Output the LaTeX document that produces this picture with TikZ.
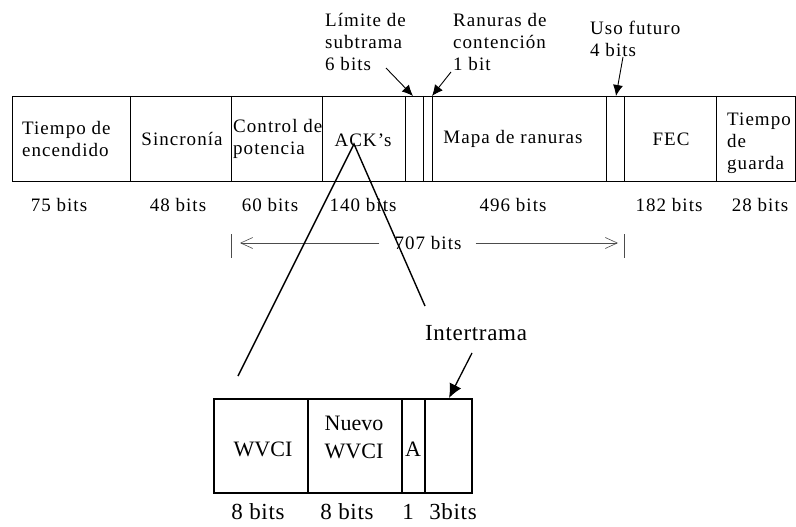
\documentclass[tikz,border=0pt]{standalone}
\usepackage{fontspec}
\setmainfont{Liberation Serif}
\newfontfamily\espaciada[LetterSpace=5.5]{Liberation Serif}
\newfontfamily\abierta[LetterSpace=3]{Liberation Serif}
\usetikzlibrary{arrows.meta,positioning}

\tikzset{
  campo/.style={font=\espaciada\fontsize{19}{22}\selectfont, inner sep=0pt, align=left},
  grande/.style={font=\fontsize{22}{28}\selectfont, inner sep=0pt, align=center},
  grandeab/.style={grande, font=\abierta\fontsize{23}{28}\selectfont},
  flecha/.style={-{Latex[length=11pt,width=10pt]}, line width=0.9pt},
  cota/.style={-{Straight Barb[length=12pt,width=11pt]}, line width=0.6pt, black!70},
}

\begin{document}
\begin{tikzpicture}[x=1pt, y=-1pt]
  \useasboundingbox (0,0) rectangle (796,527);
  % trama principal
  \begin{scope}[line width=0.9pt]
    \draw (12,96) rectangle (795,181);
    \foreach \x in {130,231,322,405,423,432,606,624,716}
      \draw (\x,96) -- (\x,181);
  \end{scope}
  % campos
  \node[campo, anchor=west] (encendido) at (22,139) {Tiempo de\\encendido};
  \node[campo] (sincronia) at (182,139) {Sincronía};
  \node[campo, anchor=west] (control) at (233,139) {Control de\\potencia};
  \node[campo] (ack) at (363,140) {ACK’s};
  \node[campo] (mapa) at (513,139) {Mapa de ranuras};
  \node[campo] (fec) at (671,139) {FEC};
  \node[campo, anchor=west] (guarda) at (727,143) {Tiempo\\de\\guarda};
  \foreach \x/\n [count=\i] in {59/75,178/48,270/60,363/140,513/496,669/182,760/28}
    \node[campo] (bits\i) at (\x,205) {\n\ bits};

  % campos pequenos
  \node[campo, anchor=west] (limite) at (325,42) {Límite de\\subtrama\\6 bits};
  \node[campo, anchor=west] (ranuras) at (453,42) {Ranuras de\\contención\\1 bit};
  \node[campo, anchor=west] (futuro) at (590,39) {Uso futuro\\4 bits};
  \coordinate (limite_ini) at (386,68);
  \coordinate (limite_fin) at (413,96);
  \coordinate (ranuras_ini) at (451,72);
  \coordinate (ranuras_fin) at (432,96);
  \coordinate (futuro_ini) at (623,57);
  \coordinate (futuro_fin) at (616,96);
  \draw[flecha] (limite_ini) -- (limite_fin);
  \draw[flecha] (ranuras_ini) -- (ranuras_fin);
  \draw[flecha] (futuro_ini) -- (futuro_fin);

  % 707 bits
  \node[campo] (total) at (428,243) {707 bits};
  \coordinate (total_izq) at (231,243);
  \coordinate (total_der) at (624,243);
  \draw[black!70, line width=0.8pt] (231,234) -- (231,258);
  \draw[black!70, line width=0.8pt] (624,234) -- (624,258);
  \draw[cota] ([xshift=-15pt]total.west) -- ([xshift=9pt]total_izq);
  \draw[cota] ([xshift=14pt]total.east) -- ([xshift=-6pt]total_der);

  % ampliacion de ACK's
  \coordinate (vertice) at (354,144);
  \coordinate (abajo_izq) at (238,376);
  \coordinate (abajo_der) at (425,306);
  \draw[line width=1.4pt] (abajo_izq) -- (vertice) -- (abajo_der);
  \node[grandeab] (intertrama) at (476,333) {Intertrama};
  \coordinate (inter_ini) at (472,353);
  \coordinate (inter_fin) at (449,398);
  \draw[flecha, -{Latex[length=14pt,width=13pt]}, line width=1.3pt] (inter_ini) -- (inter_fin);

  \begin{scope}[line width=1.2pt]
    \draw (214,399) rectangle (472,493);
    \foreach \x in {308,402,425}
      \draw (\x,399) -- (\x,493);
  \end{scope}
  \node[grande] (wvci) at (263,449) {WVCI};
  \node[grande] (nuevo) at (354,437) {Nuevo\\WVCI};
  \node[grande] (a) at (413,449) {A};
  \node[grandeab] (b8a) at (258,512) {8 bits};
  \node[grandeab] (b8b) at (347,512) {8 bits};
  \node[grandeab] (b1) at (408,512) {1};
  \node[grandeab] (b3) at (453,512) {3bits};
\end{tikzpicture}
\end{document}
